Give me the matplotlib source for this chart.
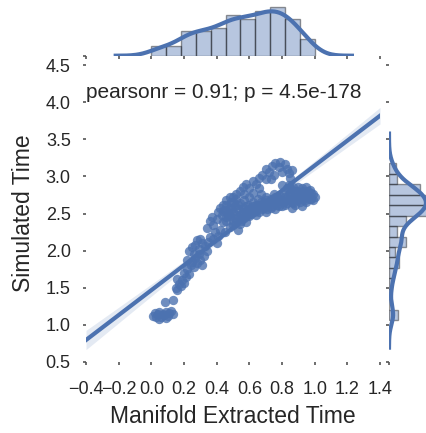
import numpy as np
import matplotlib.pyplot as plt

plt.rcParams['font.family'] = ['Liberation Sans', 'DejaVu Sans']

# joint scatter
manifold_time = [
    0.01, 0.02, 0.03, 0.04, 0.05, 0.06, 0.07, 0.08, 0.09, 0.10, 0.11, 0.12, 0.13, 0.05, 0.09, 0.085, 0.135,
    0.15, 0.16, 0.17, 0.18, 0.19, 0.20, 0.16, 0.21,
    0.20, 0.22, 0.23, 0.24, 0.25, 0.26, 0.27, 0.28, 0.29, 0.30, 0.31, 0.32, 0.26, 0.22,
    0.23, 0.25, 0.27, 0.29, 0.31, 0.33, 0.35, 0.36, 0.38, 0.40, 0.30, 0.34, 0.28, 0.41,
    0.34, 0.36, 0.38, 0.40, 0.42, 0.44, 0.46, 0.48, 0.50, 0.52, 0.54, 0.56, 0.45, 0.39, 0.43, 0.47, 0.53, 0.58, 0.37, 0.41,
    0.45, 0.46, 0.47, 0.48, 0.49, 0.50, 0.51, 0.52, 0.53, 0.54, 0.55, 0.56, 0.57, 0.58, 0.59, 0.60,
    0.61, 0.62, 0.63, 0.64, 0.65, 0.66, 0.67, 0.68, 0.69, 0.70, 0.71, 0.73, 0.74, 0.75, 0.76, 0.77,
    0.78, 0.80, 0.81, 0.82, 0.83, 0.84, 0.85, 0.86, 0.87, 0.88, 0.89, 0.90, 0.91, 0.92, 0.93, 0.94,
    0.95, 0.96, 0.97, 0.98, 0.99, 1.00, 0.88, 0.92, 0.76, 0.70, 0.64, 0.84, 0.95, 0.60, 0.57, 0.62,
    0.66, 0.80, 0.86,
    0.46, 0.48, 0.50, 0.51, 0.52, 0.53, 0.54, 0.55, 0.56, 0.57, 0.58, 0.59, 0.60, 0.61, 0.62, 0.63,
    0.64, 0.65, 0.66, 0.67, 0.68, 0.69, 0.70, 0.71, 0.72, 0.73, 0.74, 0.75, 0.76, 0.77, 0.78, 0.79,
    0.80, 0.81, 0.82, 0.83, 0.84, 0.85, 0.86, 0.87, 0.88, 0.89, 0.90, 0.91, 0.92, 0.93, 0.94, 0.95,
    0.96, 0.97, 0.98, 0.99, 0.85, 0.90, 0.42, 0.44, 0.46, 0.48, 0.50, 0.44, 0.49, 0.52, 0.54, 0.50,
    0.56, 0.58, 0.60, 0.62, 0.64, 0.66, 0.68, 0.70, 0.72, 0.74, 0.75, 0.76, 0.78, 0.79, 0.80, 0.82,
    0.83, 0.84, 0.85, 0.86, 0.70, 0.73,
]
simulated_time = [
    1.12, 1.16, 1.10, 1.14, 1.18, 1.11, 1.15, 1.13, 1.17, 1.12, 1.16, 1.19, 1.14, 1.08, 1.09, 1.31, 1.33,
    1.50, 1.47, 1.55, 1.52, 1.60, 1.57, 1.62, 1.64,
    1.70, 1.75, 1.68, 1.80, 1.85, 1.78, 1.90, 1.83, 1.95, 1.88, 1.80, 1.93, 1.96, 1.88,
    2.00, 2.05, 2.08, 2.02, 2.10, 2.06, 2.12, 2.18, 2.15, 2.10, 2.16, 2.00, 2.14, 2.20,
    2.30, 2.40, 2.35, 2.42, 2.28, 2.38, 2.45, 2.32, 2.40, 2.48, 2.36, 2.44, 2.25, 2.25, 2.48, 2.52, 2.28, 2.38, 2.45, 2.52,
    2.55, 2.62, 2.48, 2.58, 2.66, 2.52, 2.60, 2.70, 2.56, 2.64, 2.50, 2.58, 2.68, 2.54, 2.62, 2.72,
    2.58, 2.66, 2.52, 2.62, 2.70, 2.60, 2.76, 2.56, 2.66, 2.72, 2.62, 2.58, 2.68, 2.76, 2.64, 2.72,
    2.60, 2.68, 2.76, 2.62, 2.84, 2.70, 2.78, 2.66, 2.86, 2.72, 2.80, 2.68, 2.76, 2.84, 2.70, 2.78,
    2.66, 2.74, 2.82, 2.70, 2.76, 2.72, 2.62, 2.60, 2.56, 2.52, 2.48, 2.88, 2.86, 2.46, 2.76, 2.78,
    2.84, 2.88, 2.58,
    2.40, 2.46, 2.34, 2.44, 2.38, 2.62, 2.46, 2.40, 2.52, 2.44, 2.60, 2.48, 2.56, 2.50, 2.60, 2.56,
    2.54, 2.62, 2.52, 2.66, 2.62, 2.58, 2.68, 2.56, 2.64, 2.70, 2.60, 2.66, 2.72, 2.62, 2.68, 2.74,
    2.60, 2.66, 2.72, 2.64, 2.76, 2.68, 2.74, 2.64, 2.80, 2.70, 2.76, 2.66, 2.72, 2.80, 2.68, 2.74,
    2.80, 2.70, 2.78, 2.68, 2.84, 2.86, 2.58, 2.62, 2.68, 2.72, 2.66, 2.54, 2.56, 2.76, 2.80, 2.72,
    2.86, 2.90, 2.84, 2.94, 2.90, 2.98, 3.02, 2.96, 3.06, 3.14, 3.02, 3.18, 3.12, 3.19, 3.06, 3.16,
    3.10, 3.04, 2.98, 3.08, 3.10, 2.96,
]

# marginal histograms, counts
x_hist_range = (0.0, 1.0)
x_hist_counts = [12, 12, 31, 31, 35, 50, 46, 55, 60, 46, 21]
y_hist_range = (1.063, 3.175)
y_hist_counts = [19, 0, 4, 6, 11, 21, 13, 36, 17, 36, 84, 86, 64, 17, 14]

stat_text = 'pearsonr = 0.91; p = 4.5e-178'

BLUE = '#4C72B0'
BAR_FACE = (0.298, 0.447, 0.690, 0.4)
BAR_EDGE = (0, 0, 0, 0.4)
INK = '#262626'


def binned_density(rng, counts):
    counts = np.asarray(counts, float)
    edges = np.linspace(rng[0], rng[1], len(counts) + 1)
    dens = counts / (counts.sum() * np.diff(edges))
    return edges, dens


def kde_curve(edges, dens, lo, hi, n, scale=1.0):
    # gaussian kde of the binned data, scott bandwidth, cut = 3
    centers = (edges[:-1] + edges[1:]) / 2
    w = dens * np.diff(edges)
    mean = (w * centers).sum()
    std = np.sqrt((w * (centers - mean) ** 2).sum())
    bw = 1.059 * std * n ** -0.2 * scale
    grid = np.linspace(lo - 3 * bw, hi + 3 * bw, 200)
    z = (grid[:, None] - centers[None, :]) / bw
    y = (w * np.exp(-0.5 * z ** 2)).sum(axis=1) / (bw * np.sqrt(2 * np.pi))
    return grid, y


x = np.array(manifold_time)
y = np.array(simulated_time)

W, H = 427, 433
fig = plt.figure(figsize=(W / 100, H / 100), dpi=100)
ax = fig.add_axes([86 / W, 71 / H, 294 / W, 297 / H])
ax_top = fig.add_axes([86 / W, (H - 55.7) / H, 294 / W, 55.7 / H], sharex=ax)
ax_right = fig.add_axes([389 / W, 71 / H, 55.7 / W, 297 / H], sharey=ax)

# joint panel
ax.scatter(x, y, s=45, color=BLUE, alpha=0.8, linewidths=0, zorder=2)
slope, intercept = np.polyfit(x, y, 1)
xs = np.linspace(-0.4, 1.4, 100)
fit = intercept + slope * xs
resid = y - (intercept + slope * x)
s = np.sqrt((resid ** 2).sum() / (len(x) - 2))
se = s * np.sqrt(1 / len(x) + (xs - x.mean()) ** 2 / ((x - x.mean()) ** 2).sum())
ax.fill_between(xs, fit - 1.97 * se, fit + 1.97 * se, color=BLUE, alpha=0.15, linewidth=0, zorder=1)
ax.plot(xs, fit, color=BLUE, lw=3, zorder=3)
ax.set_xlim(-0.4, 1.4)
ax.set_ylim(0.5, 4.5)
ax.set_xticks(np.arange(-0.4, 1.41, 0.2))
ax.set_yticks(np.arange(0.5, 4.51, 0.5))
ax.text(0.0, 0.906, stat_text, transform=ax.transAxes, ha='left', va='center',
        fontsize=15, color=INK)
ax.set_xlabel('Manifold Extracted Time', fontsize=16.5, color=INK, labelpad=5)
ax.set_ylabel('Simulated Time', fontsize=16.5, color=INK, labelpad=8)

# marginals
xe, xd = binned_density(x_hist_range, x_hist_counts)
ye, yd = binned_density(y_hist_range, y_hist_counts)
ax_top.bar(xe[:-1], xd, width=np.diff(xe), align='edge', color=BAR_FACE,
           edgecolor=BAR_EDGE, linewidth=1)
ax_right.barh(ye[:-1], yd, height=np.diff(ye), align='edge', color=BAR_FACE,
              edgecolor=BAR_EDGE, linewidth=1)
gx, kx = kde_curve(xe, xd, x.min(), x.max(), sum(x_hist_counts))
gy, ky = kde_curve(ye, yd, y.min(), y.max(), sum(y_hist_counts), scale=0.9)
ax_top.plot(gx, kx, color=BLUE, lw=3)
ax_right.plot(ky, gy, color=BLUE, lw=3)
lim = xd.max() * 1.153
ax_top.set_ylim(0, lim)
ax_right.set_xlim(0, lim)

for a in (ax, ax_top, ax_right):
    for sp in a.spines.values():
        sp.set_visible(False)
    a.tick_params(length=2, width=1.2, color='#555555', labelsize=13, labelcolor=INK)
ax.tick_params(axis='x', pad=12)
ax.tick_params(axis='y', pad=9)
ax_top.tick_params(labelbottom=False, labelleft=False)
ax_top.set_yticks([0])
ax_right.tick_params(labelbottom=False, labelleft=False)
ax_right.set_xticks([0])

fig.savefig('out.png', dpi=100)
